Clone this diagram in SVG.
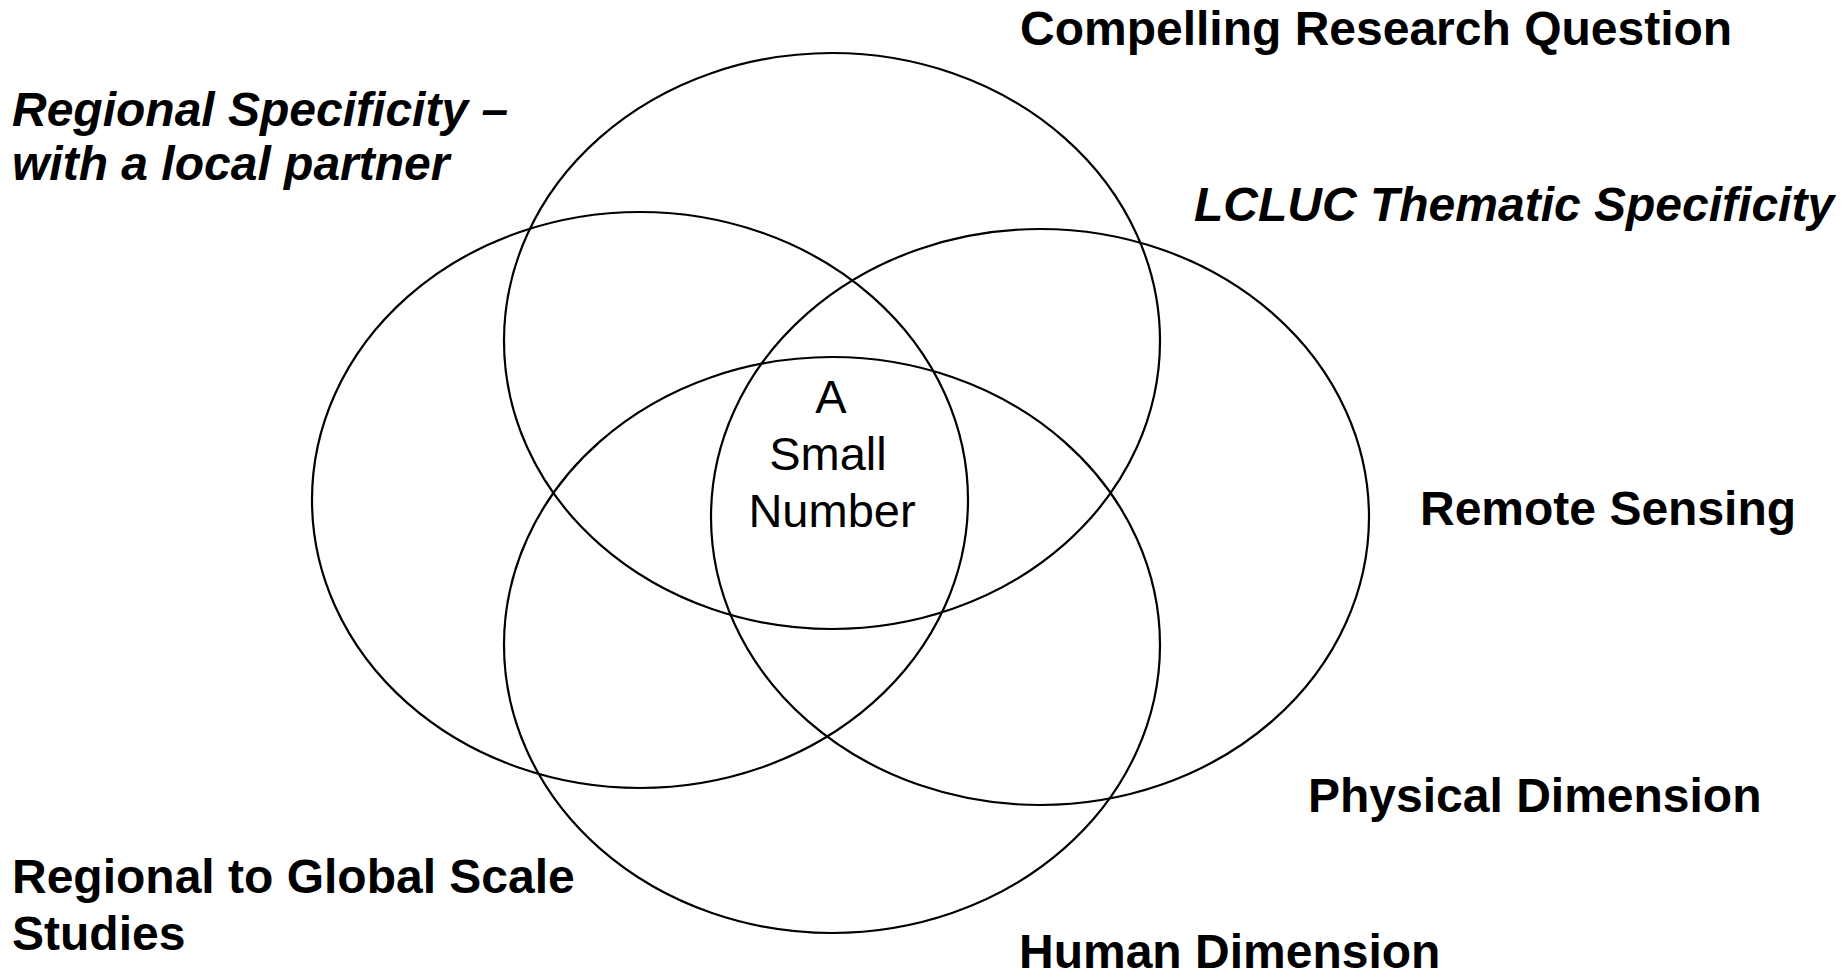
<svg xmlns="http://www.w3.org/2000/svg" width="1845" height="978" viewBox="0 0 1845 978">
<style>
.ring{fill:none;stroke:#000;stroke-width:2.2}
.lbl{font-family:"Liberation Sans",Arial,sans-serif;font-size:48px;font-weight:bold;fill:#000}
.it{font-style:italic}
.ctr{font-family:"Liberation Sans",Arial,sans-serif;font-size:47px;fill:#000;text-anchor:middle}
</style>
<rect width="1845" height="978" fill="#fff"/>
<g id="connectors"></g>
<g id="node-research-question">
<ellipse class="ring" cx="832" cy="341" rx="328" ry="288"/>
<text class="lbl" x="1020" y="45">Compelling Research Question</text>
</g>
<g id="node-regional-specificity">
<ellipse class="ring" cx="640" cy="500" rx="328" ry="288"/>
<text class="lbl it" x="12" y="126">Regional Specificity –</text>
<text class="lbl it" x="12" y="180">with a local partner</text>
</g>
<g id="node-thematic-specificity">
<ellipse class="ring" cx="1040" cy="517" rx="329" ry="288"/>
<text class="lbl it" x="1194" y="221">LCLUC Thematic Specificity</text>
<text class="lbl" x="1420" y="525">Remote Sensing</text>
<text class="lbl" x="1308" y="812">Physical Dimension</text>
</g>
<g id="node-global-scale">
<ellipse class="ring" cx="832" cy="645" rx="328" ry="288"/>
<text class="lbl" x="12" y="893">Regional to Global Scale</text>
<text class="lbl" x="12" y="950">Studies</text>
<text class="lbl" x="1019" y="968">Human Dimension</text>
</g>
<g id="node-center">
<text class="ctr" x="831" y="413">A</text>
<text class="ctr" x="828" y="470">Small</text>
<text class="ctr" x="832" y="527">Number</text>
</g>
</svg>
